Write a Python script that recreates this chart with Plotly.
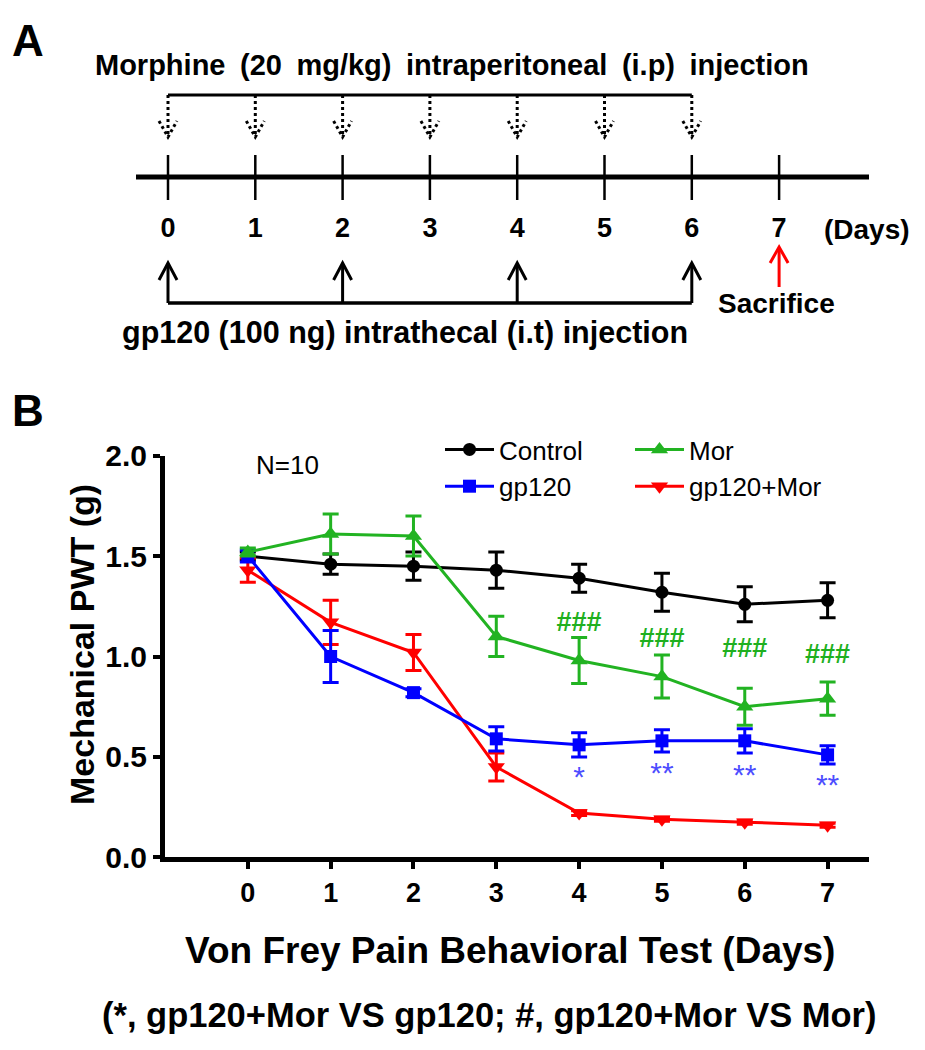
import plotly.graph_objects as go

# ---- panel B data ----
days = [0, 1, 2, 3, 4, 5, 6, 7]

control = [1.50, 1.46, 1.45, 1.43, 1.39, 1.32, 1.26, 1.28]
control_err = [0.02, 0.05, 0.07, 0.09, 0.07, 0.095, 0.087, 0.087]
gp120 = [1.50, 1.00, 0.82, 0.59, 0.56, 0.58, 0.58, 0.51]
gp120_err = [0.03, 0.13, 0.02, 0.06, 0.06, 0.055, 0.06, 0.045]
mor = [1.52, 1.61, 1.60, 1.10, 0.98, 0.90, 0.75, 0.79]
mor_err = [0.02, 0.10, 0.10, 0.10, 0.115, 0.107, 0.092, 0.083]
gp120_mor = [1.43, 1.17, 1.02, 0.45, 0.22, 0.19, 0.175, 0.16]
gp120_mor_err = [0.06, 0.11, 0.09, 0.07, 0.012, 0.01, 0.01, 0.01]

# significance marks
hash_days = [4, 5, 6, 7]
hash_y = [1.16, 1.08, 1.03, 1.00]
star_days = [4, 5, 6, 7]
star_text = ['*', '**', '**', '**']
star_y = [0.42, 0.44, 0.43, 0.385]

# ---- panel A schedule ----
timeline_days = [0, 1, 2, 3, 4, 5, 6, 7]
morphine_days = [0, 1, 2, 3, 4, 5, 6]
gp120_days = [0, 2, 4, 6]
sacrifice_day = 7

W, H = 925, 1050
# where the paper actually lands in the page screenshot
OX, OY, PH = 8, 24, 1018
F = 'Liberation Sans, Arial, sans-serif'
GREEN = '#22B322'
BLUE = '#0000FF'
RED = '#FF0000'
STAR = '#4D4DFF'


def px(x):
    return (x - OX) / W


def py(y):
    return 1 - (y - OY) / PH


# panel A uses an overlay axis: x in days, y in page pixels from the top
A_X0, A_STEP = 168, 87.3
HW = 9 / A_STEP  # arrow head half width in days

fig = go.Figure()

series = [
    ('Control', control, control_err, 'black', 'circle', 13, 'legend', 1),
    ('gp120+Mor', gp120_mor, gp120_mor_err, RED, 'triangle-down', 15, 'legend2', 4),
    ('gp120', gp120, gp120_err, BLUE, 'square', 13, 'legend', 2),
    ('Mor', mor, mor_err, GREEN, 'triangle-up', 15, 'legend2', 3),
]
for name, y, err, col, sym, size, leg, rank in series:
    fig.add_trace(go.Scatter(
        x=days, y=y, name=name, mode='lines+markers',
        line=dict(color=col, width=3),
        marker=dict(symbol=sym, size=size, color=col),
        error_y=dict(type='data', array=err, color=col, thickness=3, width=8),
        legend=leg, legendrank=rank, cliponaxis=False))

fig.add_trace(go.Scatter(
    x=hash_days, y=hash_y, mode='text', text=['###'] * len(hash_days),
    textfont=dict(family=F, size=27, color='#1FB01F', weight='bold'),
    showlegend=False, hoverinfo='skip', cliponaxis=False))
fig.add_trace(go.Scatter(
    x=star_days, y=[v - 0.035 for v in star_y], mode='text', text=star_text,
    textfont=dict(family=F, size=30, color=STAR),
    showlegend=False, hoverinfo='skip', cliponaxis=False))

# panel A day numbers
fig.add_trace(go.Scatter(
    x=timeline_days, y=[230] * len(timeline_days), mode='text',
    text=[str(d) for d in timeline_days], xaxis='x2', yaxis='y2',
    textfont=dict(family=F, size=27, color='black', weight='bold'),
    showlegend=False, hoverinfo='skip', cliponaxis=False))

shapes = []
# morphine bracket + dotted arrows
shapes.append(dict(type='line', xref='x2', yref='y2', x0=morphine_days[0], x1=morphine_days[-1],
                   y0=95, y1=95, line=dict(color='black', width=3)))
for d in morphine_days:
    shapes.append(dict(type='line', xref='x2', yref='y2', x0=d, x1=d, y0=95, y1=136,
                       line=dict(color='black', width=3, dash='dot')))
    shapes.append(dict(type='path', xref='x2', yref='y2',
                       path=f'M {d - HW},{121} L {d},{137} L {d + HW},{121}',
                       line=dict(color='black', width=3, dash='dot')))
# timeline
shapes.append(dict(type='line', xref='x2', yref='y2', x0=(136 - A_X0) / A_STEP, x1=(869 - A_X0) / A_STEP,
                   y0=177, y1=177, line=dict(color='black', width=5)))
for d in timeline_days:
    shapes.append(dict(type='line', xref='x2', yref='y2', x0=d, x1=d, y0=155, y1=200,
                       line=dict(color='black', width=2.5)))
# gp120 arrows
shapes.append(dict(type='line', xref='x2', yref='y2', x0=gp120_days[0], x1=gp120_days[-1],
                   y0=303, y1=303, line=dict(color='black', width=3.5)))
for d in gp120_days:
    shapes.append(dict(type='line', xref='x2', yref='y2', x0=d, x1=d, y0=303, y1=264,
                       line=dict(color='black', width=3)))
    shapes.append(dict(type='path', xref='x2', yref='y2',
                       path=f'M {d - HW},{280} L {d},{263} L {d + HW},{280}',
                       line=dict(color='black', width=3)))
# sacrifice arrow
shapes.append(dict(type='line', xref='x2', yref='y2', x0=sacrifice_day, x1=sacrifice_day, y0=287, y1=248,
                   line=dict(color=RED, width=3)))
shapes.append(dict(type='path', xref='x2', yref='y2',
                   path=f'M {sacrifice_day - HW},{263} L {sacrifice_day},{247} L {sacrifice_day + HW},{263}',
                   line=dict(color=RED, width=3)))

bold = dict(family=F, color='black', weight='bold')
annotations = [
    dict(text='A', x=px(28), y=py(40), font=dict(bold, size=44)),
    dict(text='B', x=px(28), y=py(410), font=dict(bold, size=44)),
    dict(text='Morphine\u2002(20\u2002mg/kg)\u2002intraperitoneal\u2002(i.p)\u2002injection',
         x=px(452), y=py(65), font=dict(bold, size=29)),
    dict(text='gp120 (100 ng) intrathecal (i.t) injection', x=px(405), y=py(333), font=dict(bold, size=30.5)),
    dict(text='(Days)', x=px(867), y=py(230), font=dict(bold, size=28)),
    dict(text='Sacrifice', x=px(776), y=py(303), font=dict(bold, size=28)),
    dict(text='N=10', x=0.48, y=1.955, xref='x', yref='y', font=dict(family=F, size=26, color='black')),
    dict(text='Mechanical PWT (g)', x=px(82), y=py(645), textangle=-90, font=dict(bold, size=34)),
    dict(text='Von Frey Pain Behavioral Test (Days)', x=px(510), y=py(950), font=dict(bold, size=37)),
    dict(text='(*, gp120+Mor VS gp120; #, gp120+Mor VS Mor)', x=px(489), y=py(1015), font=dict(bold, size=34.5)),
]
for a in annotations:
    a.setdefault('xref', 'paper')
    a.setdefault('yref', 'paper')
    a.update(showarrow=False, xanchor='center', yanchor='middle')

axis_common = dict(showline=True, linewidth=5, linecolor='black', ticks='outside', ticklen=7,
                   tickwidth=4, tickcolor='black', showgrid=False, zeroline=False,
                   tickfont=dict(family=F, size=30, color='black', weight='bold'))

legend_common = dict(xanchor='left', yanchor='top', bgcolor='rgba(0,0,0,0)',
                     font=dict(family=F, size=26, color='black'), tracegroupgap=0, itemwidth=49)

fig.update_layout(
    width=W, height=H,
    margin=dict(l=0, r=0, t=0, b=0),
    paper_bgcolor='white', plot_bgcolor='rgba(0,0,0,0)',
    xaxis=dict(axis_common, domain=[px(165), px(869)], range=[-1, 7.5], tickvals=days, anchor='y',
               tickfont=dict(family=F, size=27, color='black', weight='bold')),
    yaxis=dict(axis_common, domain=[py(857.3), py(455.7)], range=[0, 2],
               tickvals=[0, 0.5, 1, 1.5, 2], tickformat='.1f', anchor='x'),
    xaxis2=dict(domain=[0, 1], range=[(OX - A_X0) / A_STEP, (OX + W - A_X0) / A_STEP],
                visible=False, anchor='y2'),
    yaxis2=dict(domain=[0, 1], range=[OY + PH, OY], visible=False, anchor='x2'),
    legend=dict(legend_common, x=px(440), y=py(426)),
    legend2=dict(legend_common, x=px(630), y=py(426)),
    shapes=shapes,
    annotations=annotations,
)

fig.write_html('out.html')
